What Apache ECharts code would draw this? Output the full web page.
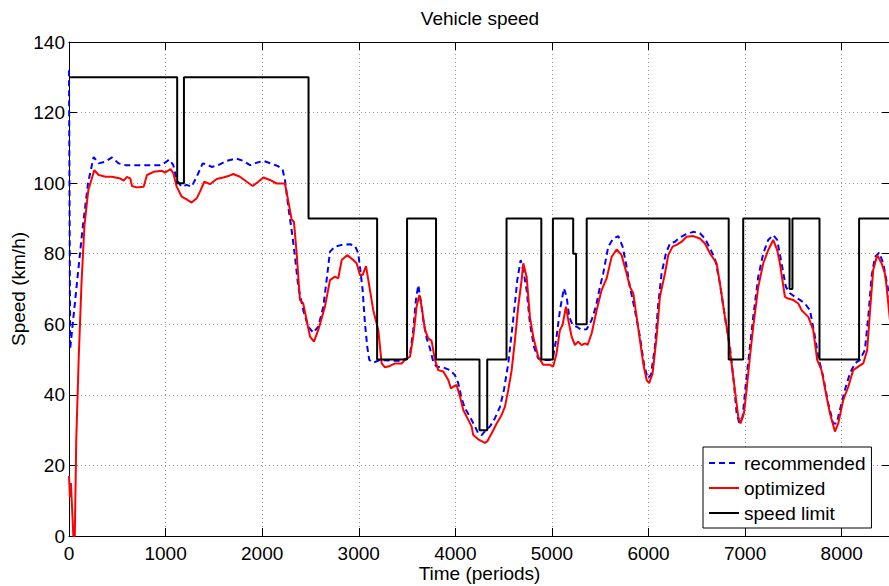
<!DOCTYPE html>
<html>
<head>
<meta charset="utf-8">
<script src="https://cdn.jsdelivr.net/npm/echarts@6/dist/echarts.min.js"></script>
<style>
html,body{margin:0;padding:0;background:#fff;}
#chart{width:889px;height:586px;}
</style>
</head>
<body>
<div id="chart"></div>
<script>
// ---- data ----
const xTicks = [0, 1000, 2000, 3000, 4000, 5000, 6000, 7000, 8000];
const yTicks = [0, 20, 40, 60, 80, 100, 120, 140];
const seriesNames = ['recommended', 'optimized', 'speed limit'];

// recommended speed [time, km/h]
const recommended = [[0,132],[12,53],[140,87],[197,100],[255,107.4],[307,105.6],[376,106.1],[445,107.3],[514,105.6],[583,105.1],[721,105.1],[859,105.1],[942,105.1],[994,105.8],[1038,106.7],[1080,105.1],[1115,100.9],[1166,99],[1218,99.5],[1270,99],[1322,101.8],[1384,105.6],[1425,105.3],[1477,104.6],[1546,105.1],[1632,106.3],[1729,107],[1805,106.3],[1874,105.1],[1943,105.8],[2012,106.3],[2088,105.6],[2167,104.8],[2212,103.7],[2236,100.9],[2270,93.3],[2305,86.7],[2340,79.1],[2374,70.6],[2425,64],[2477,59.3],[2529,57.6],[2581,59.3],[2633,65],[2667,72.5],[2702,80.6],[2754,82],[2823,82.5],[2909,82.7],[2961,82.2],[2995,80.1],[3012,76.3],[3040,69.7],[3064,60.3],[3088,53.6],[3109,49.9],[3150,49.1],[3219,49.9],[3320,49.7],[3427,49.7],[3496,50.3],[3530,51.3],[3564,58.4],[3592,66.9],[3616,71.1],[3641,66.9],[3668,61.2],[3703,56],[3737,53.2],[3771,49.4],[3806,48],[3875,47.8],[3944,47],[3996,45.6],[4030,43.3],[4065,39],[4099,36.2],[4151,33.8],[4203,31],[4237,29.1],[4272,28.6],[4317,30],[4358,31],[4410,33.4],[4462,36.6],[4503,41.4],[4548,48.9],[4583,57.4],[4617,65.9],[4641,72.5],[4676,78.2],[4703,75.4],[4738,69.7],[4772,60.3],[4814,53.6],[4858,50.3],[4910,49.9],[4979,49.9],[5013,50.8],[5048,56.5],[5083,64],[5124,70.2],[5152,67.8],[5179,62.1],[5214,59.8],[5256,59.3],[5307,58.4],[5359,58.6],[5411,61.2],[5455,65],[5497,70.6],[5531,74.4],[5583,82],[5635,84.3],[5687,85],[5732,82],[5773,76.3],[5807,70.6],[5859,64],[5911,56.5],[5952,48.9],[5990,44.7],[6025,45.6],[6066,53.6],[6101,65.9],[6135,74.4],[6180,80.1],[6222,82.9],[6273,83.4],[6325,84.6],[6394,85.6],[6463,86.2],[6532,85.8],[6584,84.3],[6636,81.5],[6687,78.7],[6739,71.6],[6791,62.1],[6843,53.6],[6884,43.3],[6912,34.8],[6939,32.1],[6974,33.8],[7008,43.3],[7050,53.6],[7084,62.1],[7136,73.5],[7188,80.1],[7239,83.9],[7291,85.3],[7332,83.9],[7377,77.3],[7422,70.6],[7464,68.8],[7515,67.8],[7567,66.9],[7619,65.9],[7671,64],[7723,56.5],[7757,50.8],[7809,45.1],[7860,37.6],[7912,31.9],[7947,31.9],[7981,35.7],[8033,41.4],[8085,46.1],[8137,48.9],[8188,49.9],[8240,52.7],[8275,62.1],[8309,73.5],[8344,79.1],[8388,80.3],[8430,77.3],[8482,69.7],[8500,67]];

// optimized speed [time, km/h]
const optimized = [[0,17],[10,11],[20,15],[45,0],[60,0],[75,27],[100,50],[130,72],[160,88],[200,98],[262,103.7],[307,102.3],[380,101.8],[445,101.8],[531,101.3],[566,100.7],[600,101.8],[635,101.3],[652,99.2],[700,98.8],[773,99],[807,102.3],[877,103.2],[963,103.5],[994,103],[1052,104],[1080,102.8],[1115,99],[1166,96.2],[1218,95.4],[1270,94.5],[1322,95.7],[1356,97.6],[1401,100.4],[1460,99.7],[1529,101.2],[1597,101.6],[1650,102],[1701,102.6],[1770,101.8],[1840,100.4],[1901,99.2],[1960,100.4],[2012,101.6],[2081,100.9],[2150,99.9],[2236,99.9],[2281,93.3],[2305,89.7],[2329,89],[2357,80.1],[2391,66.9],[2425,65.9],[2460,61.2],[2495,56.5],[2536,55.1],[2581,58.4],[2650,65],[2702,72.5],[2754,73.5],[2788,73],[2823,78.2],[2881,79.6],[2943,78.2],[2978,77.3],[3012,74],[3040,74],[3075,76.5],[3099,72.5],[3150,64],[3202,58.4],[3237,48.9],[3271,47.8],[3323,48.2],[3375,48.9],[3444,48.9],[3478,49.9],[3530,50.8],[3564,56.5],[3599,65],[3627,68.3],[3651,65],[3685,58.4],[3720,56],[3754,55.3],[3789,49.9],[3823,47],[3875,46.6],[3927,44.2],[3954,41.8],[3978,42.3],[4013,42.8],[4048,39.5],[4082,35.7],[4134,32.9],[4169,31],[4185,28.6],[4237,27.4],[4306,26.4],[4330,26.8],[4376,29.1],[4428,31.9],[4479,34.3],[4513,36.6],[4548,41.4],[4583,47],[4617,55.5],[4651,65],[4686,72.5],[4703,77.3],[4738,73.5],[4772,62.1],[4806,56.5],[4858,50.8],[4910,48.5],[4979,48.5],[5013,48],[5048,51.8],[5083,58.4],[5110,59.8],[5145,65],[5169,61.2],[5204,56.5],[5238,54.1],[5272,55.1],[5307,54.1],[5342,54.6],[5370,54.2],[5411,57.4],[5463,64],[5514,69.7],[5566,73],[5618,79.1],[5670,81.2],[5721,79.6],[5773,74.4],[5807,70.6],[5842,68.8],[5877,62.1],[5911,55.5],[5945,48.9],[5980,44.2],[6007,43.3],[6042,46.1],[6084,56.5],[6118,67.8],[6170,74.4],[6204,79.6],[6249,82],[6291,82.5],[6343,83.4],[6394,84.8],[6463,85],[6532,84.3],[6584,82.9],[6636,80.1],[6705,77.3],[6739,71.6],[6791,62.1],[6825,56.5],[6860,48.9],[6894,41.4],[6929,33.8],[6953,31.9],[6988,34.8],[7015,41.4],[7050,50.8],[7084,59.3],[7136,70.6],[7188,77.3],[7239,81],[7291,83.9],[7332,81],[7360,77.3],[7412,67.8],[7446,67.3],[7498,66.9],[7550,65.9],[7585,64],[7654,62.1],[7705,58.4],[7746,49.9],[7791,47],[7843,39.5],[7878,34.8],[7930,29.6],[7964,31.9],[8016,38.5],[8068,42.3],[8119,47],[8171,48],[8223,48.9],[8264,52.7],[8299,65.9],[8326,75.4],[8368,79.6],[8413,77.3],[8447,74.4],[8465,70.6],[8500,61]];

// speed limit: value valid from the given time onward
const limitStart = [0, 1120, 1190, 2480, 3190, 3500, 3800, 4250, 4330, 4530, 4890, 5010, 5220, 5250, 5360, 6830, 6980, 7460, 7490, 7770, 8180, 8500];
const limitValue = [130, 100, 130, 90, 50, 90, 50, 30, 50, 90, 50, 90, 80, 60, 90, 50, 90, 70, 90, 50, 90, 90];

// ---- chart ----
const speedLimit = limitStart.map((t, i) => [t, limitValue[i]]);
const FONT = '"Liberation Sans", Arial, Helvetica, sans-serif';
const chart = echarts.init(document.getElementById('chart'), null, {renderer: 'svg'});

const gridSplit = {show: true, lineStyle: {color: '#9a9a9a', type: [1, 3], width: 1}};
const axLine = {show: true, onZero: false, lineStyle: {color: '#000', width: 1}};
const axTick = {show: true, inside: true, length: 8, lineStyle: {color: '#000', width: 1}};

chart.setOption({
  animation: false,
  backgroundColor: '#fff',
  textStyle: {fontFamily: FONT},
  grid: {left: 69, right: -1, top: 42, bottom: 50, containLabel: false, outerBoundsMode: 'none'},
  title: {show: false},
  graphic: [
    {type: 'text', x: 480, y: 18, style: {text: 'Vehicle speed', font: '19px ' + FONT, fill: '#000', align: 'center', verticalAlign: 'middle'}}
  ],
  legend: {
    data: seriesNames,
    orient: 'vertical',
    left: 703, top: 447,
    backgroundColor: '#fff',
    borderColor: '#000', borderWidth: 1,
    padding: [6, 6, 5, 5],
    itemWidth: 30, itemHeight: 14, itemGap: 5,
    itemStyle: {opacity: 0},
    textStyle: {fontSize: 19, lineHeight: 20, color: '#000', fontFamily: FONT}
  },
  xAxis: [
    {
      type: 'value', min: 0, max: 8500, interval: 1000, position: 'bottom',
      name: 'Time (periods)', nameLocation: 'middle', nameGap: 28, nameMoveOverlap: false,
      nameTextStyle: {fontSize: 19, lineHeight: 18, color: '#000', fontFamily: FONT},
      axisLine: axLine, axisTick: axTick,
      axisLabel: {fontSize: 19, lineHeight: 18, color: '#000', margin: 8, showMaxLabel: false, fontFamily: FONT,
        formatter: v => (xTicks.indexOf(v) >= 0 ? String(v) : '')},
      splitLine: gridSplit
    },
    {
      type: 'value', min: 0, max: 8500, interval: 1000, position: 'top',
      axisLine: axLine, axisTick: axTick, axisLabel: {show: false}, splitLine: {show: false}
    }
  ],
  yAxis: [
    {
      type: 'value', min: 0, max: 140, interval: 20, position: 'left',
      name: 'Speed (km/h)', nameLocation: 'middle', nameGap: 41, nameRotate: 90, nameMoveOverlap: false,
      nameTextStyle: {fontSize: 19, color: '#000', fontFamily: FONT},
      axisLine: axLine, axisTick: axTick,
      axisLabel: {fontSize: 19, color: '#000', margin: 4, fontFamily: FONT,
        formatter: v => (yTicks.indexOf(v) >= 0 ? String(v) : '')},
      splitLine: gridSplit
    },
    {
      type: 'value', min: 0, max: 140, interval: 20, position: 'right',
      axisLine: axLine, axisTick: axTick, axisLabel: {show: false}, splitLine: {show: false}
    }
  ],
  series: [
    {
      name: seriesNames[0], type: 'line', data: recommended, symbol: 'none',
      lineStyle: {color: '#0000ff', width: 2, type: [6, 4]}, itemStyle: {color: '#0000ff'}
    },
    {
      name: seriesNames[1], type: 'line', data: optimized, symbol: 'none',
      lineStyle: {color: '#ff0000', width: 2}, itemStyle: {color: '#ff0000'}
    },
    {
      name: seriesNames[2], type: 'line', data: speedLimit, symbol: 'none', step: 'end',
      lineStyle: {color: '#000000', width: 2}, itemStyle: {color: '#000000'}
    }
  ]
});
</script>
</body>
</html>
